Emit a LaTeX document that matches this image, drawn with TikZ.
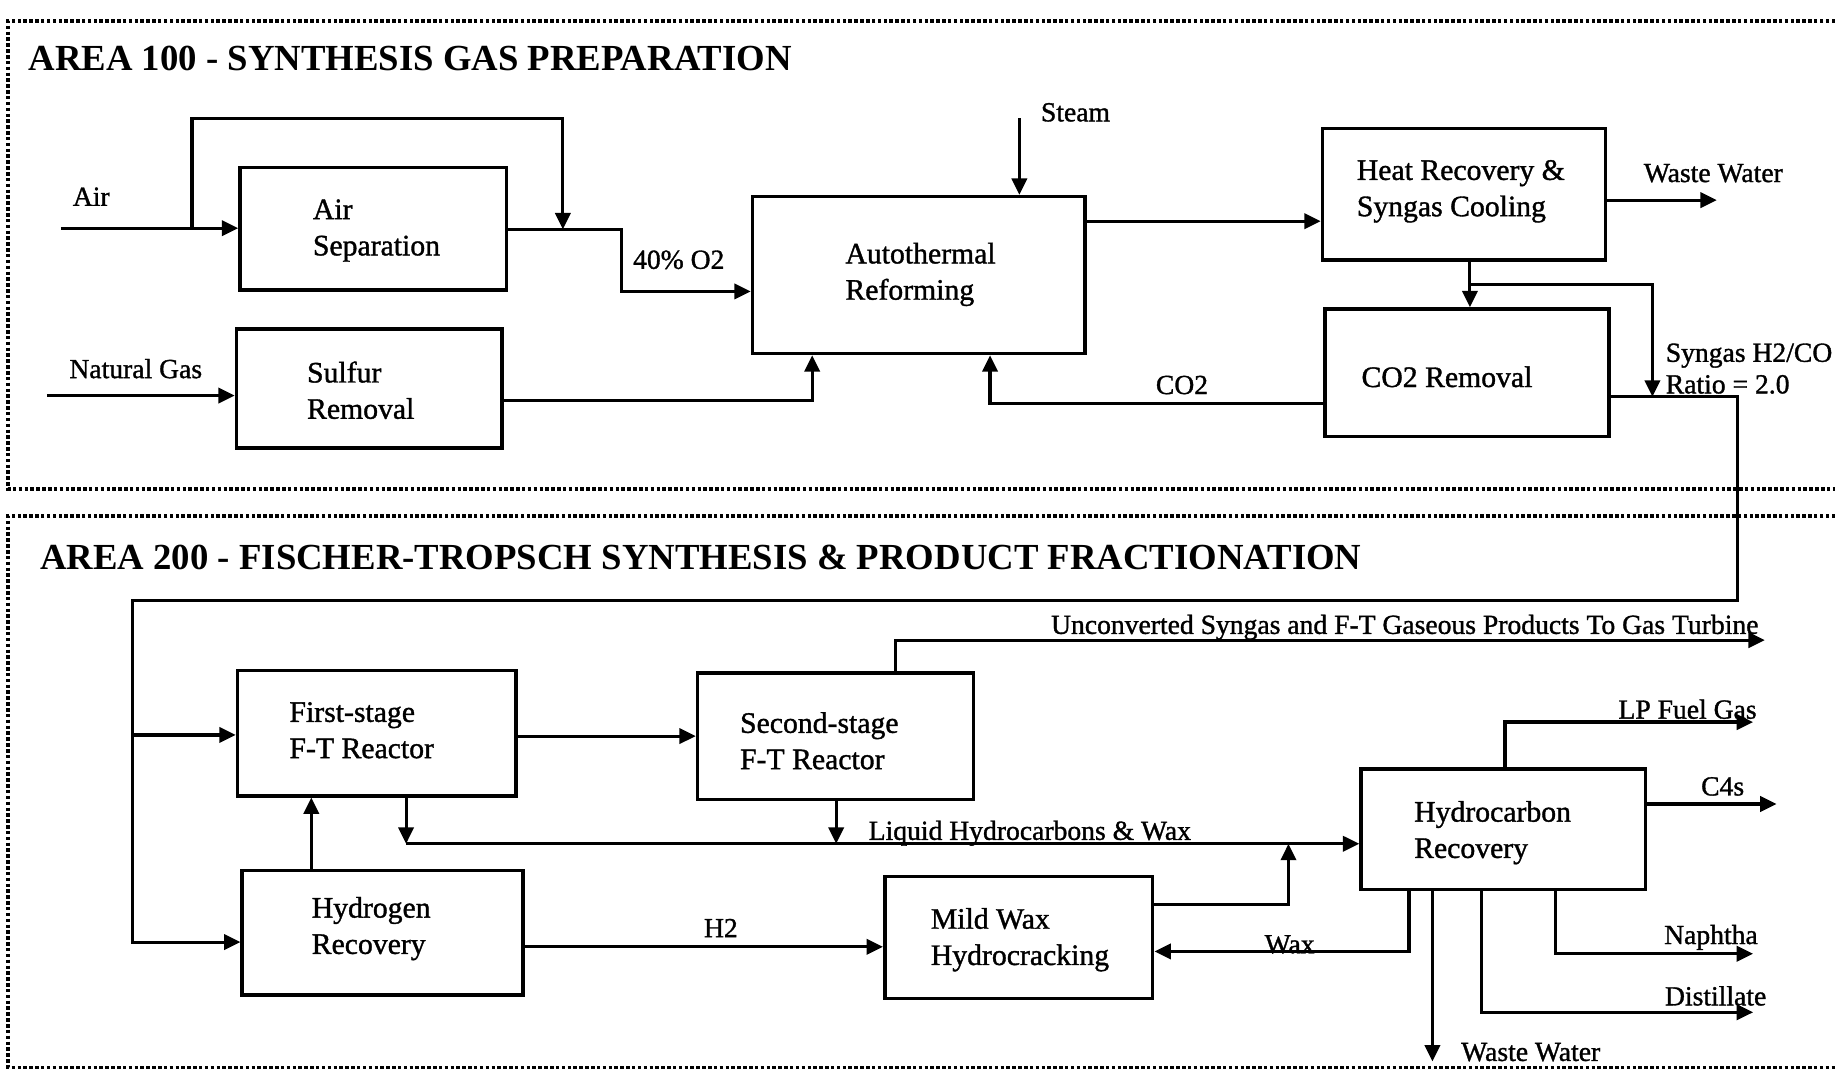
\documentclass[tikz,border=0pt]{standalone}
\usepackage{fontspec}
\setmainfont{Liberation Serif}
\newfontfamily\scanfont{Liberation Serif}[FakeBold=1.2]
\usetikzlibrary{arrows.meta}
\tikzset{
  bx/.style 2 args={draw, line width=1.5pt, inner sep=0pt, minimum width=#1*0.5pt, minimum height=#2*0.5pt},
  btxt/.style={anchor=west, align=left, inner sep=0pt, font=\scanfont\fontsize{12.7}{15.5}\selectfont},
  lbl/.style={inner sep=0pt, font=\scanfont\fontsize{11.8}{14}\selectfont},
  ttl/.style={anchor=west, inner sep=0pt, font=\bfseries\fontsize{15.7}{18}\selectfont},
  arr/.style={line width=1.35pt, -{Triangle[length=7pt,width=6.5pt]}},
  frame/.style={line width=1.5pt, densely dotted},
}
\begin{document}
\begin{tikzpicture}[x=0.5pt,y=-0.5pt]
\useasboundingbox (0,0) rectangle (1568,926);
% frames
\draw[frame] (1568,18) -- (7,18) -- (7,418) -- (1568,418);
\draw[frame] (1568,441) -- (7,441) -- (7,912) -- (1568,912);
\node[ttl] (t1) at (24,50) {AREA 100 - SYNTHESIS GAS PREPARATION};
\node[ttl] (t2) at (34,476) {AREA 200 - FISCHER-TROPSCH SYNTHESIS \& PRODUCT FRACTIONATION};

% boxes
\node[bx={228}{105}] (as)  at (319,195.5) {};
\node[bx={227}{102}] (sr)  at (315.5,332) {};
\node[bx={284}{134}] (atr) at (785,235) {};
\node[bx={242}{112}] (hr)  at (1251,166) {};
\node[bx={243}{109}] (co2) at (1253.5,318.5) {};
\node[bx={238}{107}] (ft1) at (322,626.5) {};
\node[bx={236}{108}] (ft2) at (714,629) {};
\node[bx={240}{106}] (h2r) at (327,797) {};
\node[bx={229}{104}] (mwh) at (870.5,801) {};
\node[bx={243}{103}] (hcr) at (1284.5,708.5) {};

% box texts
\node[btxt] (asT)  at (267,197) {Air\\Separation};
\node[btxt] (srT)  at (262,333.5) {Sulfur\\Removal};
\node[btxt] (atrT) at (722,234.5) {Autothermal\\Reforming};
\node[btxt] (hrT)  at (1159,163.5) {Heat Recovery \&\\Syngas Cooling};
\node[btxt] (co2T) at (1163,322) {CO2 Removal};
\node[btxt] (ft1T) at (247,624) {First-stage\\F-T Reactor};
\node[btxt] (ft2T) at (632,633) {Second-stage\\F-T Reactor};
\node[btxt] (h2rT) at (266,793.5) {Hydrogen\\Recovery};
\node[btxt] (mwhT) at (795,803) {Mild Wax\\Hydrocracking};
\node[btxt] (hcrT) at (1208,711.5) {Hydrocarbon\\Recovery};

% labels
\node[lbl] (lAir)   at (78,168) {Air};
\node[lbl] (lNG)    at (116,315) {Natural Gas};
\node[lbl] (lO2)    at (580,222) {40\% O2};
\node[lbl] (lSteam) at (919,96) {Steam};
\node[lbl] (lWW1)   at (1464,148) {Waste Water};
\node[lbl] (lCO2)   at (1010,329) {CO2};
\node[lbl, anchor=west, align=left, font=\scanfont\fontsize{11.8}{13.5}\selectfont] (lSyn) at (1423,315) {Syngas H2/CO\\Ratio = 2.0};
\node[lbl, anchor=east] (lUC) at (1503,536) {Unconverted Syngas and F-T Gaseous Products To Gas Turbine};
\node[lbl] (lLiq)   at (880,712) {Liquid Hydrocarbons \& Wax};
\node[lbl] (lLP)    at (1442,606) {LP Fuel Gas};
\node[lbl] (lC4)    at (1472,672) {C4s};
\node[lbl] (lH2)    at (616,793) {H2};
\node[lbl] (lWax)   at (1102,807) {Wax};
\node[lbl] (lNaph)  at (1462,801) {Naphtha};
\node[lbl] (lDist)  at (1466,851) {Distillate};
\node[lbl] (lWW2)   at (1308,899) {Waste Water};

% coordinates
\coordinate (airIn) at (52,195);
\coordinate (bypA) at (164,195);
\coordinate (bypB) at (481,101);
\coordinate (join) at (481,196);
\coordinate (o2) at (531,249);
\coordinate (ngIn) at (40,338);
\coordinate (sratr) at (694,342);
\coordinate (steamIn) at (871,101);
\coordinate (yatr) at (1000,189);
\coordinate (wwOut) at (1467,171);
\coordinate (xhc) at (1256,0);
\coordinate (br) at (1256,243);
\coordinate (brR) at (1412,339);
\coordinate (syA) at (1485,338.5);
\coordinate (syB) at (113,513);
\coordinate (ft1in) at (113,628);
\coordinate (h2in) at (113,805);
\coordinate (co2r) at (846,344.5);
\coordinate (y12) at (500,629);
\coordinate (ucA) at (765,547);
\coordinate (ucOut) at (1508,547);
\coordinate (lq1) at (347,721);
\coordinate (lq2) at (714.5,721);
\coordinate (xh2) at (266,0);
\coordinate (yh2) at (600,809);
\coordinate (mwA) at (1101,773);
\coordinate (mwB) at (1101,721);
\coordinate (wxA) at (1204,813);
\coordinate (ww2) at (1224,907);
\coordinate (dsA) at (1266,865);
\coordinate (dsOut) at (1498,865);
\coordinate (npA) at (1329,815);
\coordinate (npOut) at (1498,815);
\coordinate (c4Out) at (1518,687);
\coordinate (lpA) at (1286,617);
\coordinate (lpOut) at (1498,617);

% Area 100 connectors
\draw[arr] (airIn) -- (airIn -| as.west);
\draw[arr] (bypA) |- (bypB) -- (join);
\draw[arr] (as.east |- join) -| (o2) -- (o2 -| atr.west);
\draw[arr] (ngIn) -- (ngIn -| sr.west);
\draw[arr] (sr.east |- sratr) -- (sratr) -- (sratr |- atr.south);
\draw[arr] (steamIn) -- (steamIn |- atr.north);
\draw[arr] (atr.east |- yatr) -- (hr.west |- yatr);
\draw[arr] (hr.east |- wwOut) -- (wwOut);
\draw[arr] (hr.south -| xhc) -- (co2.north -| xhc);
\draw[arr] (br) -| (brR);
\draw[arr] (co2.west |- co2r) -- (co2r) -- (co2r |- atr.south);
\draw[arr] (co2.east |- syA) -- (syA) |- (syB) -- (h2in) -- (h2in -| h2r.west);
\draw[arr] (ft1in) -- (ft1in -| ft1.west);

% Area 200 connectors
\draw[arr] (ft1.east |- y12) -- (ft2.west |- y12);
\draw[arr] (ft2.north -| ucA) -- (ucA) -- (ucOut);
\draw[arr] (ft1.south -| lq1) -- (lq1);
\draw[arr] (ft2.south -| lq2) -- (lq2);
\draw[arr] (lq1) -- (lq1 -| hcr.west);
\draw[arr] (h2r.north -| xh2) -- (ft1.south -| xh2);
\draw[arr] (h2r.east |- yh2) -- (mwh.west |- yh2);
\draw[arr] (mwh.east |- mwA) -- (mwA) -- (mwB);
\draw[arr] (hcr.south -| wxA) -- (wxA) -- (wxA -| mwh.east);
\draw[arr] (hcr.south -| ww2) -- (ww2);
\draw[arr] (hcr.south -| dsA) -- (dsA) -- (dsOut);
\draw[arr] (hcr.south -| npA) -- (npA) -- (npOut);
\draw[arr] (hcr.east |- c4Out) -- (c4Out);
\draw[arr] (hcr.north -| lpA) -- (lpA) -- (lpOut);
\end{tikzpicture}
\end{document}
